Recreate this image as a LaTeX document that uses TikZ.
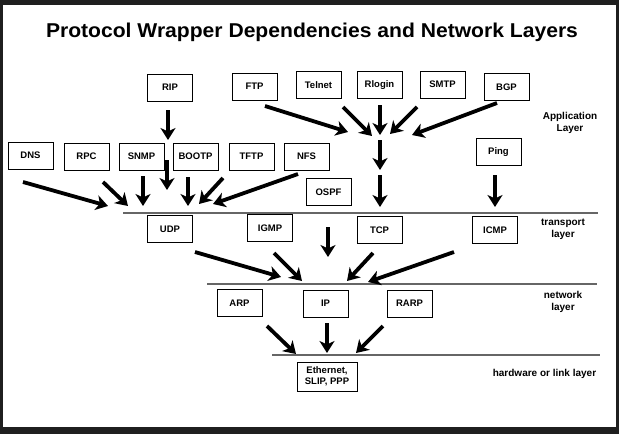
\documentclass[tikz,border=0pt]{standalone}
\usepackage{fontspec}
\setmainfont{Liberation Sans}
\usetikzlibrary{arrows.meta}

\tikzset{
  proto/.style={draw, line width=1pt, minimum width=45pt, minimum height=27pt,
    inner sep=1pt, fill=white, font=\fontsize{9.5}{10.5}\selectfont\bfseries},
  layername/.style={font=\fontsize{10}{12}\selectfont\bfseries, align=center},
  dep/.style={line width=3.8pt, -{Stealth[length=12pt,width=15pt,inset=3.5pt]}},
  divider/.style={line width=1.5pt, draw=black!60},
}

\begin{document}
\begin{tikzpicture}[x=1pt,y=-1pt]
    % frame
    \fill[black!88] (0,0) rectangle (619,434);
    \fill[white] (3,5) rectangle (616,427);
    \node[font=\fontsize{20}{24}\selectfont\bfseries] (title) at (312,32)
        {\scalebox{1.055}[1]{Protocol Wrapper Dependencies and Network Layers}};

    % application layer
    \node[proto] (rip)    at (170,87.5)  {RIP};
    \node[proto] (ftp)    at (254.5,86.5) {FTP};
    \node[proto] (telnet) at (318.5,85)  {Telnet};
    \node[proto] (rlogin) at (379.5,85)  {Rlogin};
    \node[proto] (smtp)   at (442.5,84.5) {SMTP};
    \node[proto] (bgp)    at (506.5,87)  {BGP};
    \node[proto] (dns)    at (30.5,155.5) {DNS};
    \node[proto] (rpc)    at (86.5,156.5) {RPC};
    \node[proto] (snmp)   at (141.5,156.5) {SNMP};
    \node[proto] (bootp)  at (195.5,156.5) {BOOTP};
    \node[proto] (tftp)   at (251.5,156.5) {TFTP};
    \node[proto] (nfs)    at (306.5,156.5) {NFS};
    \node[proto] (ping)   at (498.5,152)  {Ping};
    \node[proto] (ospf)   at (328.5,192)  {OSPF};
    \node[layername] (applabel) at (570,123) {Application\\Layer};

    % transport layer
    \draw[divider] (123,213) -- (598,213);
    \node[proto] (udp)  at (170,229) {UDP};
    \node[proto] (igmp) at (270,228) {IGMP};
    \node[proto] (tcp)  at (379.5,230) {TCP};
    \node[proto] (icmp) at (495,230) {ICMP};
    \node[layername] (translabel) at (563,229) {transport\\layer};

    % network layer
    \draw[divider] (207,284) -- (597,284);
    \node[proto] (arp)  at (239.5,303) {ARP};
    \node[proto] (ip)   at (325.5,303.5) {IP};
    \node[proto] (rarp) at (409.5,303.5) {RARP};
    \node[layername] (netlabel) at (563,302) {network\\layer};

    % hardware layer
    \draw[divider] (272,355) -- (600,355);
    \node[proto, minimum width=60pt, minimum height=29pt, align=center] (eth) at (327,376.5)
        {Ethernet,\\SLIP, PPP};
    \node[layername] (hwlabel) at (544.5,374) {hardware or link layer};

    % arrow ends
    \coordinate (rip-s) at (168,110);   \coordinate (rip-e) at (168,140);
    \coordinate (rip2-s) at (167,160);  \coordinate (rip2-e) at (167,190);
    \coordinate (ftp-s) at (265,106);   \coordinate (ftp-e) at (348,132);
    \coordinate (telnet-s) at (343,107); \coordinate (telnet-e) at (372,136);
    \coordinate (rlogin-s) at (380,105); \coordinate (rlogin-e) at (380,135);
    \coordinate (smtp-s) at (417,107);  \coordinate (smtp-e) at (390,134);
    \coordinate (bgp-s) at (497,103);   \coordinate (bgp-e) at (412,135);
    \coordinate (app-s) at (380,140);   \coordinate (app-e) at (380,170);
    \coordinate (tcpin-s) at (380,175); \coordinate (tcpin-e) at (380,207);
    \coordinate (ping-s) at (495,175);  \coordinate (ping-e) at (495,207);
    \coordinate (dns-s) at (23,182);    \coordinate (dns-e) at (108,206);
    \coordinate (rpc-s) at (103,182);   \coordinate (rpc-e) at (128,206);
    \coordinate (snmp-s) at (143,176);  \coordinate (snmp-e) at (143,206);
    \coordinate (bootp-s) at (188,177); \coordinate (bootp-e) at (188,206);
    \coordinate (tftp-s) at (223,178);  \coordinate (tftp-e) at (199,204);
    \coordinate (nfs-s) at (298,174);   \coordinate (nfs-e) at (213,204);
    \coordinate (udp-s) at (195,252);   \coordinate (udp-e) at (281,277);
    \coordinate (igmp-s) at (274,253);  \coordinate (igmp-e) at (302,281);
    \coordinate (ospf-s) at (328,227);  \coordinate (ospf-e) at (328,257);
    \coordinate (tcp-s) at (373,253);   \coordinate (tcp-e) at (347,281);
    \coordinate (icmp-s) at (454,252);  \coordinate (icmp-e) at (368,282);
    \coordinate (arp-s) at (267,326);   \coordinate (arp-e) at (296,354);
    \coordinate (ip-s) at (327,323);    \coordinate (ip-e) at (327,353);
    \coordinate (rarp-s) at (383,326);  \coordinate (rarp-e) at (356,353);

    % dependencies
    \foreach \p in {rip,rip2,ftp,telnet,rlogin,smtp,bgp,app,tcpin,ping,
                    dns,rpc,snmp,bootp,tftp,nfs,udp,igmp,ospf,tcp,icmp,arp,ip,rarp}
        \draw[dep] (\p-s) -- (\p-e);
\end{tikzpicture}
\end{document}
